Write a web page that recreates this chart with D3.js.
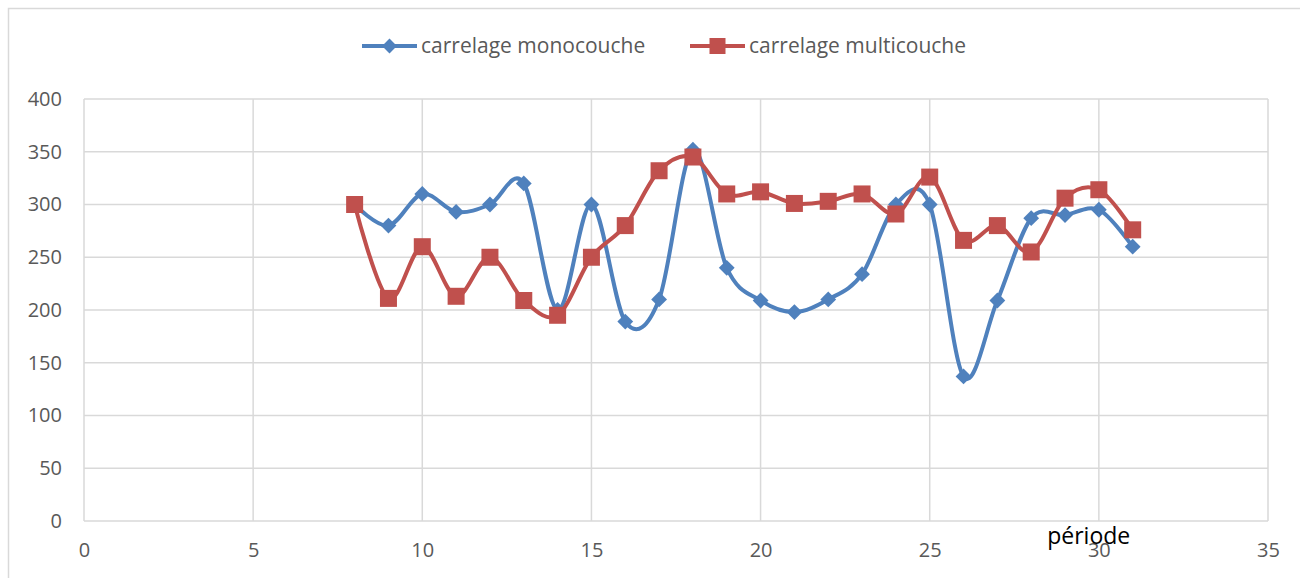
<!DOCTYPE html>
<html>
<head>
<meta charset="utf-8">
<script src="https://cdn.jsdelivr.net/npm/d3@7"></script>
<style>
  body { margin: 0; background: #fff; }
  svg { display: block; font-family: "Open Sans", "Noto Sans", sans-serif; }
</style>
</head>
<body>
<svg id="chart" width="1300" height="578"></svg>
<script>
// chart data
const periods = [8, 9, 10, 11, 12, 13, 14, 15, 16, 17, 18, 19, 20, 21, 22, 23, 24, 25, 26, 27, 28, 29, 30, 31];
const monocouche = [300, 280, 310, 293, 300, 320, 200, 300, 189, 210, 352, 240, 209, 198, 210, 234, 300, 300, 137, 209, 287, 290, 295, 260];
const multicouche = [300, 211, 260, 213, 250, 209, 195, 250, 280, 332, 345, 310, 312, 301, 303, 310, 291, 326, 266, 280, 255, 306, 314, 276];
const xTicks = [0, 5, 10, 15, 20, 25, 30, 35];
const yTicks = [0, 50, 100, 150, 200, 250, 300, 350, 400];
const seriesNames = ['carrelage monocouche', 'carrelage multicouche'];

const svg = d3.select('#chart');
const margin = { top: 99, left: 84, right: 32, bottom: 57 };
const width = 1300 - margin.left - margin.right;
const height = 578 - margin.top - margin.bottom;

const blue = '#4F81BD';
const red = '#C0504D';

// outer chart border
svg.append('rect')
  .attr('x', 8.5).attr('y', 8.5)
  .attr('width', 1320).attr('height', 620)
  .attr('fill', 'none')
  .attr('stroke', '#D9D9D9')
  .attr('stroke-width', 1.5);

const x = d3.scaleLinear().domain([0, 35]).range([0, width]);
const y = d3.scaleLinear().domain([0, 400]).range([height, 0]);

const g = svg.append('g')
  .attr('transform', 'translate(' + margin.left + ',' + margin.top + ')');

// grid
g.append('g')
  .selectAll('line')
  .data(yTicks)
  .enter()
  .append('line')
  .attr('x1', 0).attr('x2', width)
  .attr('y1', d => y(d)).attr('y2', d => y(d))
  .attr('stroke', '#D9D9D9').attr('stroke-width', 1.5);

g.append('g')
  .selectAll('line')
  .data(xTicks)
  .enter()
  .append('line')
  .attr('x1', d => x(d)).attr('x2', d => x(d))
  .attr('y1', 0).attr('y2', height)
  .attr('stroke', '#D9D9D9').attr('stroke-width', 1.5);

// axes labels (axis lines hidden, gridlines carry the frame)
const yAxis = g.append('g')
  .call(d3.axisLeft(y).tickValues(yTicks).tickSize(0).tickPadding(22));
const xAxis = g.append('g')
  .attr('transform', 'translate(0,' + height + ')')
  .call(d3.axisBottom(x).tickValues(xTicks).tickSize(0).tickPadding(22));
[yAxis, xAxis].forEach(a => {
  a.select('.domain').remove();
  a.selectAll('text')
    .attr('fill', '#595959')
    .style('font-size', '20px')
    .style('font-family', '"Open Sans", "Noto Sans", sans-serif');
});

// x axis title
g.append('text')
  .attr('x', x(29.7))
  .attr('y', height + 23)
  .attr('text-anchor', 'middle')
  .attr('fill', '#000')
  .style('font-size', '23px')
  .text('période');

const line = d3.line()
  .x(d => x(d[0]))
  .y(d => y(d[1]))
  .curve(d3.curveCardinal.tension(0));

const monoPts = periods.map((p, i) => [p, monocouche[i]]);
const multiPts = periods.map((p, i) => [p, multicouche[i]]);

g.append('path')
  .datum(monoPts)
  .attr('d', line)
  .attr('fill', 'none')
  .attr('stroke', blue)
  .attr('stroke-width', 4)
  .attr('stroke-linejoin', 'round');

g.append('path')
  .datum(multiPts)
  .attr('d', line)
  .attr('fill', 'none')
  .attr('stroke', red)
  .attr('stroke-width', 4)
  .attr('stroke-linejoin', 'round');

const diamond = d3.symbol().type(d3.symbolSquare).size(125);

g.append('g')
  .selectAll('path')
  .data(monoPts)
  .enter()
  .append('path')
  .attr('d', diamond)
  .attr('transform', d => 'translate(' + x(d[0]) + ',' + y(d[1]) + ') rotate(45)')
  .attr('fill', blue);

g.append('g')
  .selectAll('rect')
  .data(multiPts)
  .enter()
  .append('rect')
  .attr('x', d => x(d[0]) - 8.5)
  .attr('y', d => y(d[1]) - 8.5)
  .attr('width', 17).attr('height', 17)
  .attr('fill', red);

// legend
const legend = svg.append('g').attr('transform', 'translate(0,46)');
const legendItems = [
  { name: seriesNames[0], color: blue, x0: 362, shape: 'diamond' },
  { name: seriesNames[1], color: red, x0: 690, shape: 'square' }
];
legendItems.forEach(it => {
  const lg = legend.append('g').attr('transform', 'translate(' + it.x0 + ',0)');
  lg.append('line')
    .attr('x1', 0).attr('x2', 55)
    .attr('stroke', it.color).attr('stroke-width', 4);
  if (it.shape === 'diamond') {
    lg.append('path')
      .attr('d', d3.symbol().type(d3.symbolSquare).size(110))
      .attr('transform', 'translate(27.5,0) rotate(45)')
      .attr('fill', it.color);
  } else {
    lg.append('rect')
      .attr('x', 19.5).attr('y', -8)
      .attr('width', 16).attr('height', 16)
      .attr('fill', it.color);
  }
  lg.append('text')
    .attr('x', 59)
    .attr('dy', '0.35em')
    .attr('fill', '#595959')
    .style('font-size', '21px')
    .text(it.name);
});
</script>
</body>
</html>
